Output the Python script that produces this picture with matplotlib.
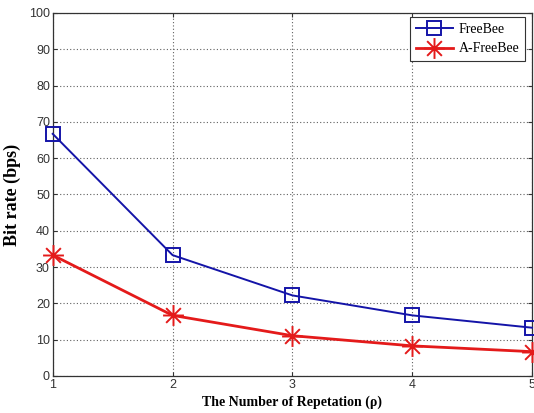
import matplotlib
matplotlib.use('Agg')
import matplotlib.pyplot as plt
from matplotlib.path import Path

# bit rate vs number of repetitions
repetitions = [1, 2, 3, 4, 5]
freebee = [66.7, 33.3, 22.2, 16.7, 13.3]
a_freebee = [33.3, 16.7, 11.1, 8.3, 6.7]
yticks = [0, 10, 20, 30, 40, 50, 60, 70, 80, 90, 100]

# matlab style asterisk: + and x in one open path
d = 0.707
asterisk = Path([(-1, 0), (1, 0), (0, -1), (0, 1), (-d, -d), (d, d), (-d, d), (d, -d)],
                [Path.MOVETO, Path.LINETO] * 4)

blue = '#1414a8'
red = '#e41a1a'

fig = plt.figure(figsize=(5.34, 4.13), dpi=100)
ax = fig.add_axes([0.0987, 0.0896, 0.8976, 0.879])

ax.plot(repetitions, freebee, color=blue, lw=1.4, marker='s', ms=10,
        mfc='none', mec=blue, mew=1.4, label='FreeBee', clip_on=False, zorder=3)
ax.plot(repetitions, a_freebee, color=red, lw=2.0, marker=asterisk, ms=15,
        mfc='none', mec=red, mew=1.4, label='A-FreeBee', clip_on=False, zorder=3)

ax.set_xlim(1, 5)
ax.set_ylim(0, 100)
ax.set_xticks(repetitions)
ax.set_yticks(yticks)
ax.grid(True, ls=(0, (1, 2)), color='#606060', lw=0.8)
ax.tick_params(direction='in', labelsize=9, colors='#333333', length=3, pad=2,
               top=True, right=True)
for lab in ax.get_xticklabels() + ax.get_yticklabels():
    lab.set_fontfamily('Liberation Sans')
for s in ax.spines.values():
    s.set_color('#333333')
    s.set_linewidth(0.9)

ax.set_xlabel('The Number of Repetation (ρ)', fontfamily='Liberation Serif',
              fontweight='bold', fontsize=10)
ax.set_ylabel('Bit rate (bps)', fontfamily='Liberation Serif',
              fontweight='bold', fontsize=13)
ax.xaxis.set_label_coords(0.5, -0.054)
ax.yaxis.set_label_coords(-0.066, 0.5)

leg = ax.legend(loc='upper right', bbox_to_anchor=(0.9855, 0.989), fancybox=False,
                framealpha=1, edgecolor='#333333',
                prop={'family': 'Liberation Serif', 'size': 10},
                handlelength=2.7, handletextpad=0.4, borderpad=0.4,
                labelspacing=0.5, borderaxespad=0)
leg.get_frame().set_linewidth(0.8)

fig.savefig('out.png', dpi=100)
